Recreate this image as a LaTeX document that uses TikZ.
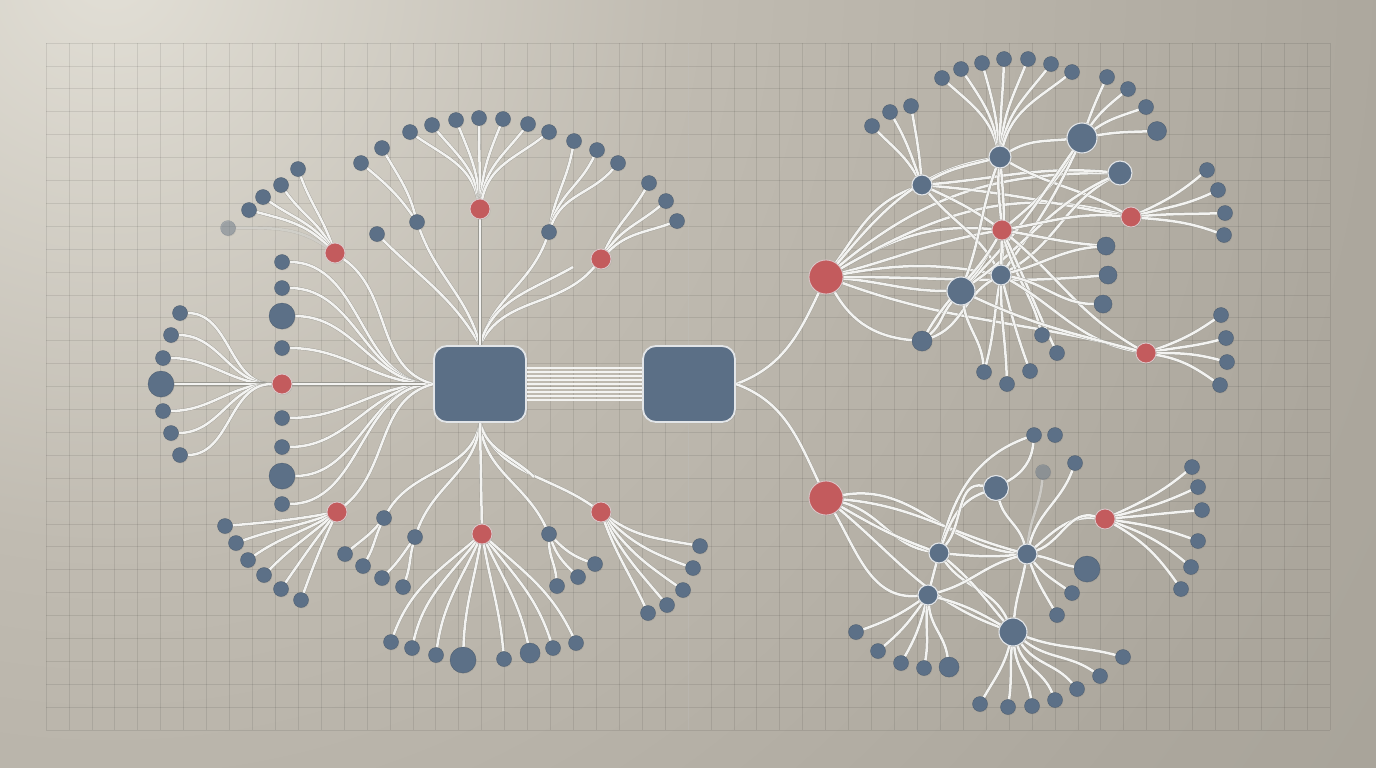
\documentclass[tikz,border=0pt]{standalone}
\usetikzlibrary{shadows}
\definecolor{bgl}{HTML}{E2DFD6}
\definecolor{bgm1}{HTML}{C0BBB1}
\definecolor{bgm2}{HTML}{ACA79D}
\definecolor{bgm3}{HTML}{9F9B91}
\definecolor{bgd}{HTML}{8E8B83}
\definecolor{nblue}{HTML}{5C7087}
\definecolor{nred}{HTML}{C35B5D}
\definecolor{bxblue}{HTML}{5B6F86}
\definecolor{edgein}{HTML}{F3F3F1}
\definecolor{edgeout}{HTML}{9A9992}
\definecolor{ringc}{HTML}{E2E5E8}
\pgfdeclareradialshading{bgshade}{\pgfpoint{0bp}{0bp}}{color(0bp)=(bgl); color(9bp)=(bgm1); color(20bp)=(bgm2); color(33bp)=(bgm3); color(50bp)=(bgd)}
\pgfdeclarelayer{bglayer}
\pgfdeclarelayer{edgelayer}
\pgfsetlayers{bglayer,edgelayer,main}
\begin{document}
\begin{tikzpicture}[x=1pt,y=-1pt,
 leaf/.style={circle,inner sep=0pt,minimum size=#1,fill=nblue,draw=nblue!80!black,line width=0.3pt,
   drop shadow={shadow xshift=0.7pt,shadow yshift=-0.9pt,opacity=0.22}},
 leaf/.default=15pt,
 hubn/.style={leaf=#1,draw=ringc,line width=1.1pt},
 hubn/.default=20pt,
 rnode/.style={leaf=#1,fill=nred,draw=ringc!80!nred,line width=0.8pt},
 rnode/.default=20pt,
 ghost/.style={leaf=#1,opacity=0.35},
 ghost/.default=15pt,
 bx/.style={rectangle,rounded corners=13pt,minimum width=92pt,minimum height=76pt,fill=bxblue,draw=ringc,line width=1.8pt,
   drop shadow={shadow xshift=1pt,shadow yshift=-1.2pt,opacity=0.25}},
 ln/.style={draw=edgeout,line width=0.35pt,double=edgein,double distance=2.5pt},
 gridl/.style={draw=black,opacity=0.085,line width=0.7pt}]
\useasboundingbox (0,0) rectangle (1376,768);
\begin{pgfonlayer}{bglayer}
\begin{scope}
\clip (0,0) rectangle (1376,768);
\shade[shading=bgshade] (110,-30) circle (1600);
\end{scope}
\foreach \i in {0,...,56} \draw[gridl] ({46+\i*22.93},43) -- ({46+\i*22.93},730);
\foreach \j in {0,...,30} \draw[gridl] (46,{43+\j*22.9}) -- (1330,{43+\j*22.9});
\draw[white,opacity=0.22,line width=0.8pt] (688,43) -- (688,730);
\end{pgfonlayer}

% ---------- boxes ----------
\node[bx] (A) at (480,384) {};
\node[bx] (B) at (689,384) {};

% ---------- left network ----------
\node[rnode] (rL) at (282,384) {};
\node[leaf] (l1) at (180,313) {};
\node[leaf] (l2) at (171,335) {};
\node[leaf] (l3) at (163,358) {};
\node[leaf=26pt] (l4) at (161,384) {};
\node[leaf] (l5) at (163,411) {};
\node[leaf] (l6) at (171,433) {};
\node[leaf] (l7) at (180,455) {};
\node[leaf] (c1) at (282,262) {};
\node[leaf] (c2) at (282,288) {};
\node[leaf=26pt] (c3) at (282,316) {};
\node[leaf] (c4) at (282,348) {};
\node[leaf] (c5) at (282,418) {};
\node[leaf] (c6) at (282,447) {};
\node[leaf=26pt] (c7) at (282,476) {};
\node[leaf] (c8) at (282,504) {};
\node[rnode] (rTL) at (335,253) {};
\node[leaf] (t1) at (298,169) {};
\node[leaf] (t2) at (281,185) {};
\node[leaf] (t3) at (263,197) {};
\node[leaf] (t4) at (249,210) {};
\node[ghost] (t5) at (228,228) {};
\node[leaf] (u1) at (377,234) {};
\node[leaf] (u2) at (417,222) {};
\node[leaf] (u2a) at (361,163) {};
\node[leaf] (u2b) at (382,148) {};
\node[rnode] (rT) at (480,209) {};
\node[leaf] (f1) at (410,132) {};
\node[leaf] (f2) at (432,125) {};
\node[leaf] (f3) at (456,120) {};
\node[leaf] (f4) at (479,118) {};
\node[leaf] (f5) at (503,119) {};
\node[leaf] (f6) at (528,124) {};
\node[leaf] (f7) at (549,132) {};
\node[leaf] (u3) at (549,232) {};
\node[leaf] (u3a) at (574,141) {};
\node[leaf] (u3b) at (597,150) {};
\node[leaf] (u3c) at (618,163) {};
\node[rnode] (rTR) at (601,259) {};
\node[leaf] (v1) at (649,183) {};
\node[leaf] (v2) at (666,201) {};
\node[leaf] (v3) at (677,221) {};
\coordinate (dT) at (573,267);
\node[leaf] (b1) at (384,518) {};
\node[leaf] (b1a) at (345,554) {};
\node[leaf] (b1b) at (363,566) {};
\node[leaf] (b2) at (415,537) {};
\node[leaf] (b2a) at (382,578) {};
\node[leaf] (b2b) at (403,587) {};
\node[rnode] (rBL) at (337,512) {};
\node[leaf] (g1) at (225,526) {};
\node[leaf] (g2) at (236,543) {};
\node[leaf] (g3) at (248,560) {};
\node[leaf] (g4) at (264,575) {};
\node[leaf] (g5) at (281,589) {};
\node[leaf] (g6) at (301,600) {};
\node[rnode] (rB) at (482,534) {};
\node[leaf] (h1) at (391,642) {};
\node[leaf] (h2) at (412,648) {};
\node[leaf] (h3) at (436,655) {};
\node[leaf=26pt] (h4) at (463,660) {};
\node[leaf] (h5) at (504,659) {};
\node[leaf=20pt] (h6) at (530,653) {};
\node[leaf] (h7) at (553,648) {};
\node[leaf] (h8) at (576,643) {};
\node[leaf] (b3) at (549,534) {};
\node[leaf] (b3a) at (557,586) {};
\node[leaf] (b3b) at (578,577) {};
\node[leaf] (b3c) at (595,564) {};
\node[rnode] (rBR) at (601,512) {};
\node[leaf] (w1) at (700,546) {};
\node[leaf] (w2) at (693,568) {};
\node[leaf] (w3) at (683,590) {};
\node[leaf] (w4) at (667,605) {};
\node[leaf] (w5) at (648,613) {};
\coordinate (dB) at (534,477);

% ---------- right top network ----------
\node[rnode=34pt] (R1) at (826,277) {};
\node[hubn] (H1) at (922,185) {};
\node[leaf] (k1) at (872,126) {};
\node[leaf] (k2) at (890,112) {};
\node[leaf] (k3) at (911,106) {};
\node[hubn=22pt] (H2) at (1000,157) {};
\node[leaf] (m1) at (942,78) {};
\node[leaf] (m2) at (961,69) {};
\node[leaf] (m3) at (982,63) {};
\node[leaf] (m4) at (1004,59) {};
\node[leaf] (m5) at (1028,59) {};
\node[leaf] (m6) at (1051,64) {};
\node[leaf] (m7) at (1072,72) {};
\node[hubn=30pt] (HB) at (1082,138) {};
\node[leaf] (n1) at (1107,77) {};
\node[leaf] (n2) at (1128,89) {};
\node[leaf] (n3) at (1146,107) {};
\node[leaf=19pt] (n4) at (1157,131) {};
\node[hubn=24pt] (Q) at (1120,173) {};
\node[rnode] (Rr) at (1131,217) {};
\node[leaf] (p1) at (1207,170) {};
\node[leaf] (p2) at (1218,190) {};
\node[leaf] (p3) at (1225,213) {};
\node[leaf] (p4) at (1224,235) {};
\node[rnode] (Rc) at (1002,230) {};
\node[hubn=28pt] (B1) at (961,291) {};
\node[hubn] (H3) at (1001,275) {};
\node[leaf=20pt] (L) at (922,341) {};
\node[leaf=18pt] (S1) at (1106,246) {};
\node[leaf=18pt] (S2) at (1108,275) {};
\node[leaf=18pt] (S3) at (1103,304) {};
\node[leaf] (sm1) at (1042,335) {};
\node[leaf] (sm2) at (1057,353) {};
\node[leaf] (sm3) at (1030,371) {};
\node[leaf] (sm4) at (984,372) {};
\node[leaf] (sm5) at (1007,384) {};
\node[rnode] (Rb) at (1146,353) {};
\node[leaf] (q1) at (1221,315) {};
\node[leaf] (q2) at (1226,338) {};
\node[leaf] (q3) at (1227,362) {};
\node[leaf] (q4) at (1220,385) {};

% ---------- right bottom network ----------
\node[rnode=34pt] (R2) at (826,498) {};
\node[hubn] (Ha) at (939,553) {};
\node[hubn=25pt] (Hbb) at (996,488) {};
\node[hubn] (Hb) at (1027,554) {};
\node[hubn] (Hc) at (928,595) {};
\node[hubn=28pt] (Hd) at (1013,632) {};
\node[leaf] (T1) at (1034,435) {};
\node[leaf] (T2) at (1055,435) {};
\node[ghost] (gh) at (1043,472) {};
\node[leaf] (T3) at (1075,463) {};
\node[rnode] (Rp) at (1105,519) {};
\node[leaf=26pt] (bb1) at (1087,569) {};
\node[leaf] (bb2) at (1072,593) {};
\node[leaf] (bb3) at (1057,615) {};
\node[leaf] (cc1) at (856,632) {};
\node[leaf] (cc2) at (878,651) {};
\node[leaf] (cc3) at (901,663) {};
\node[leaf] (cc4) at (924,668) {};
\node[leaf=20pt] (cc5) at (949,667) {};
\node[leaf] (dd1) at (980,704) {};
\node[leaf] (dd2) at (1008,707) {};
\node[leaf] (dd3) at (1032,706) {};
\node[leaf] (dd4) at (1055,700) {};
\node[leaf] (dd5) at (1077,689) {};
\node[leaf] (dd6) at (1100,676) {};
\node[leaf] (dd7) at (1123,657) {};
\node[leaf] (pp1) at (1192,467) {};
\node[leaf] (pp2) at (1198,487) {};
\node[leaf] (pp3) at (1202,510) {};
\node[leaf] (pp4) at (1198,541) {};
\node[leaf] (pp5) at (1191,567) {};
\node[leaf] (pp6) at (1181,589) {};

% angles below are given clockwise on the page (0 = east, 90 = south) and negated in use
\begin{pgfonlayer}{edgelayer}
\foreach \d in {-16,-12,...,16} \draw[ln,double distance=2pt] ([yshift=\d pt]A.east) -- ([yshift=\d pt]B.west);
% left
\foreach \k in {1,...,7} \draw[ln] (rL) to[out=180,in=0] (l\k);
\foreach \k in {1,...,8} \draw[ln] (c\k) to[out=0,in=180] (A.west);
\draw[ln] (rL) -- (A.west);
\foreach \s/\t/\o/\i in {rTL/A.west/35/195,rBL/A.west/320/165,u1/A.north/45/240,u2/A.north/70/255,
   u3/A.north/110/285,rTR/A.north/130/295,A.north/dT/285/150,u2/u2a/235/40,u2/u2b/255/60,
   A.south/b1/100/300,A.south/b2/95/290,A.south/b3/85/245,A.south/rBR/70/215,A.south/dB/75/225,
   b1/b1a/130/320,b1/b1b/115/300,b2/b2a/125/315,b2/b2b/105/290}
  \draw[ln] (\s) to[out=-\o,in=-\i] (\t);
\draw[ln] (rT) -- (A.north);
\draw[ln] (A.south) -- (rB);
\foreach \n/\o/\i in {t1/250/70,t2/240/55,t3/232/35,t4/225/15} \draw[ln] (rTL) to[out=-\o,in=-\i] (\n);
\draw[ln,opacity=0.4] (rTL) to[out=-215,in=0] (t5);
\foreach \k/\o/\i in {1/258/35,2/262/50,3/266/68,4/270/90,5/274/112,6/278/128,7/282/142} \draw[ln] (rT) to[out=-\o,in=-\i] (f\k);
\foreach \n/\o/\i in {u3a/280/100,u3b/285/115,u3c/290/130} \draw[ln] (u3) to[out=-\o,in=-\i] (\n);
\foreach \n/\o/\i in {v1/295/120,v2/305/140,v3/315/160} \draw[ln] (rTR) to[out=-\o,in=-\i] (\n);
\foreach \k/\o/\i in {1/170/355,2/160/340,3/150/325,4/140/315,5/128/305,6/115/290} \draw[ln] (rBL) to[out=-\o,in=-\i] (g\k);
\foreach \k/\o/\i in {1/140/290,2/128/283,3/115/278,4/100/272,5/80/265,6/65/258,7/52/252,8/42/245} \draw[ln] (rB) to[out=-\o,in=-\i] (h\k);
\foreach \n/\o/\i in {b3a/90/265,b3b/70/225,b3c/45/200} \draw[ln] (b3) to[out=-\o,in=-\i] (\n);
\foreach \k/\o/\i in {1/35/190,2/45/200,3/55/215,4/63/230,5/70/245} \draw[ln] (rBR) to[out=-\o,in=-\i] (w\k);
% from box B
\draw[ln] (B.east) to[out=-340,in=-115] (R1);
\draw[ln] (B.east) to[out=-20,in=-245] (R2);
% right top
\foreach \n/\o/\i in {H1/305/160,H2/310/170,Rc/330/185,Rc/345/170,Rr/330/195,B1/5/180,H3/350/190,L/60/185,S2/0/175,Rb/20/195,Q/320/180}
  \draw[ln] (R1) to[out=-\o,in=-\i] (\n);
\foreach \n/\o/\i in {k1/240/45,k2/250/60,k3/265/80,H2/330/165,Rc/25/215,Rr/5/190,Q/355/185,H3/50/240}
  \draw[ln] (H1) to[out=-\o,in=-\i] (\n);
\foreach \n/\o/\i in {m1/255/42,m2/260/56,m3/265/74,m4/270/92,m5/275/112,m6/280/128,m7/285/142,HB/330/175,Rc/95/265,B1/110/290,H3/85/275,Rr/30/210}
  \draw[ln] (H2) to[out=-\o,in=-\i] (\n);
\foreach \n/\o/\i in {n1/290/115,n2/305/140,n3/325/160,n4/350/178,Rc/120/320,H3/115/305,B1/125/315}
  \draw[ln] (HB) to[out=-\o,in=-\i] (\n);
\draw[ln] (Q) to[out=-150,in=-330] (H3);
\draw[ln] (Q) to[out=-155,in=-325] (B1);
\foreach \n/\o/\i in {Rr/350/185,S1/10/185,Rb/40/210,B1/120/310,L/120/300,sm1/75/255,sm2/65/245}
  \draw[ln] (Rc) to[out=-\o,in=-\i] (\n);
\draw[ln] (Rc) -- (H3);
\foreach \n/\o/\i in {S1/345/175,L/150/340,sm4/100/285,sm5/90/268,sm3/75/250,Rb/30/190,S3/10/180}
  \draw[ln] (H3) to[out=-\o,in=-\i] (\n);
\foreach \n/\o/\i in {L/130/320,sm4/80/265,Rb/25/195}
  \draw[ln] (B1) to[out=-\o,in=-\i] (\n);
\foreach \n/\o/\i in {p1/335/140,p2/345/155,p3/355/178,p4/5/200}
  \draw[ln] (Rr) to[out=-\o,in=-\i] (\n);
\foreach \n/\o/\i in {q1/340/145,q2/350/165,q3/0/195,q4/10/215}
  \draw[ln] (Rb) to[out=-\o,in=-\i] (\n);
% right bottom
\foreach \n/\o/\i in {Ha/15/190,Ha/30/200,Hb/350/185,Hb/5/195,Hc/60/175,Hd/40/200}
  \draw[ln] (R2) to[out=-\o,in=-\i] (\n);
\foreach \n/\o/\i in {T1/285/160,Hbb/290/160,Hbb/310/190,Hb/5/175,Hd/55/245,Hd/40/230}
  \draw[ln] (Ha) to[out=-\o,in=-\i] (\n);
\draw[ln] (Ha) -- (Hc);
\draw[ln] (Hbb) to[out=-330,in=-95] (T1);
\draw[ln] (Hbb) to[out=-75,in=-255] (Hb);
\draw[ln,opacity=0.5] (Hb) to[out=-275,in=-95] (gh);
\foreach \n/\o/\i in {T3/285/110,Rp/320/185,Rp/340/195,bb1/10/190,bb2/50/215,bb3/70/240,Hd/100/275,Hc/165/345}
  \draw[ln] (Hb) to[out=-\o,in=-\i] (\n);
\draw[ln] (Hc) to[out=-15,in=-210] (Hd);
\foreach \n/\o/\i in {cc1/145/340,cc2/125/320,cc3/105/300,cc4/95/280,cc5/85/262}
  \draw[ln] (Hc) to[out=-\o,in=-\i] (\n);
\foreach \n/\o/\i in {dd1/105/300,dd2/95/278,dd3/85/262,dd4/72/248,dd5/55/230,dd6/38/215,dd7/20/195}
  \draw[ln] (Hd) to[out=-\o,in=-\i] (\n);
\foreach \n/\o/\i in {pp1/335/140,pp2/345/155,pp3/355/175,pp4/8/200,pp5/20/220,pp6/30/235}
  \draw[ln] (Rp) to[out=-\o,in=-\i] (\n);
\end{pgfonlayer}
\end{tikzpicture}
\end{document}
